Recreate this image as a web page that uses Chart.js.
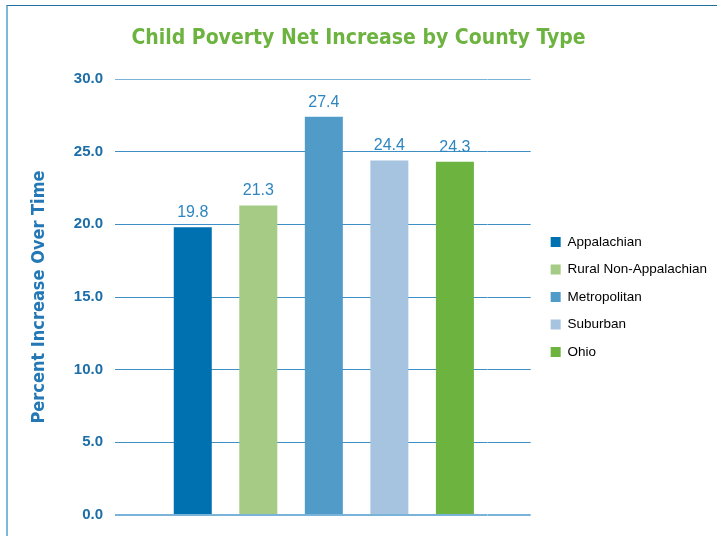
<!DOCTYPE html>
<html>
<head>
<meta charset="utf-8">
<script src="https://cdn.jsdelivr.net/npm/chart.js@4.4.1/dist/chart.umd.min.js"></script>
<style>
  html, body { margin: 0; padding: 0; background: #fff; }
  #wrap { position: relative; width: 717px; height: 536px; overflow: hidden; }
  /* thin report frame behind the chart */
  #frame {
    position: absolute; left: 6px; top: 5px; right: 0; bottom: -4px;
    border-top: 1px solid #1f6f9f; border-left: 2px solid #7ab8dc;
  }
  #chart { position: absolute; left: 0; top: 0; }
</style>
</head>
<body>
<div id="wrap">
  <div id="frame"></div>
  <canvas id="chart" width="717" height="536"></canvas>
</div>
<script>
// Child poverty net increase (percent) by county type
const categories = ["Appalachian", "Rural Non-Appalachian", "Metropolitan", "Suburban", "Ohio"]
const increases = [19.8, 21.3, 27.4, 24.4, 24.3]
const yMin = 0
const yMax = 30
const yStep = 5

const barColors = ["#0071b0", "#a5cb85", "#519bc9", "#a6c4e0", "#6cb33f"]
const narrow = "'Liberation Sans Narrow', 'DejaVu Sans Condensed', sans-serif"
const plain = "'Liberation Sans', Arial, sans-serif"

// gridline look: outer lines lighter, zero line a bit heavier
const gridColor = (ctx) => (ctx.tick && (ctx.tick.value === yMin || ctx.tick.value === yMax)) ? "#7ab3da" : "#3d8fc6"
const gridWidth = (ctx) => (ctx.tick && ctx.tick.value === yMin) ? 2 : 1

// value labels above each bar
const valueLabels = {
  id: "valueLabels",
  afterDatasetsDraw(chart) {
    const { ctx } = chart
    const meta = chart.getDatasetMeta(0)
    ctx.save()
    ctx.font = "16px " + plain
    ctx.fillStyle = "#2e86c1"
    ctx.textAlign = "center"
    ctx.textBaseline = "alphabetic"
    meta.data.forEach((bar, i) => {
      ctx.fillText(increases[i].toFixed(1), bar.x, bar.y - 10)
    })
    ctx.restore()
  }
}

new Chart(document.getElementById("chart"), {
  type: "bar",
  data: {
    labels: categories,
    datasets: [{
      label: "Percent Increase Over Time",
      data: increases,
      backgroundColor: barColors,
      borderWidth: 0,
      categoryPercentage: 1.0,
      barPercentage: 0.58
    }]
  },
  options: {
    responsive: false,
    animation: false,
    layout: { padding: { top: 0, left: 0, right: 0, bottom: 21 } },
    plugins: {
      title: {
        display: true,
        text: "Child Poverty Net Increase by County Type",
        color: "#6db33f",
        font: { family: narrow, size: 21, weight: "bold", lineHeight: 1.2 },
        padding: { top: 26, bottom: 27.8 }
      },
      legend: {
        position: "right",
        align: "center",
        fullSize: false,
        maxWidth: 200,
        labels: {
          boxWidth: 10,
          boxHeight: 10,
          padding: 14,
          color: "#2f88c3",
          font: { family: plain, size: 13.5 },
          generateLabels: () => categories.map((c, i) => ({
            text: c,
            fillStyle: barColors[i],
            strokeStyle: barColors[i],
            lineWidth: 0,
            hidden: false,
            index: i
          }))
        },
        onClick: () => {}
      },
      tooltip: { enabled: false }
    },
    scales: {
      x: { display: false },
      y: {
        position: "left",
        min: yMin,
        max: yMax,
        ticks: {
          stepSize: yStep,
          padding: 12,
          color: "#1c6ea8",
          font: { family: plain, size: 15, weight: "bold" },
          callback: (v) => Number(v).toFixed(1)
        },
        grid: { color: gridColor, lineWidth: gridWidth, tickLength: 45 },
        border: { display: false },
        title: {
          display: true,
          text: "Percent Increase Over Time",
          color: "#2378b5",
          font: { family: narrow, size: 18, weight: "bold", lineHeight: 1.2 },
          padding: { top: 29, bottom: 0 }
        },
        afterFit: (scale) => { scale.width = 160 }
      },
      // right-hand stub so the gridlines run past the last bar
      y2: {
        position: "right",
        min: yMin,
        max: yMax,
        ticks: { display: false, stepSize: yStep },
        grid: { color: gridColor, lineWidth: gridWidth, tickLength: 43, drawOnChartArea: false },
        border: { display: false },
        afterFit: (scale) => { scale.width = 49 }
      }
    }
  },
  plugins: [valueLabels]
})
</script>
</body>
</html>
